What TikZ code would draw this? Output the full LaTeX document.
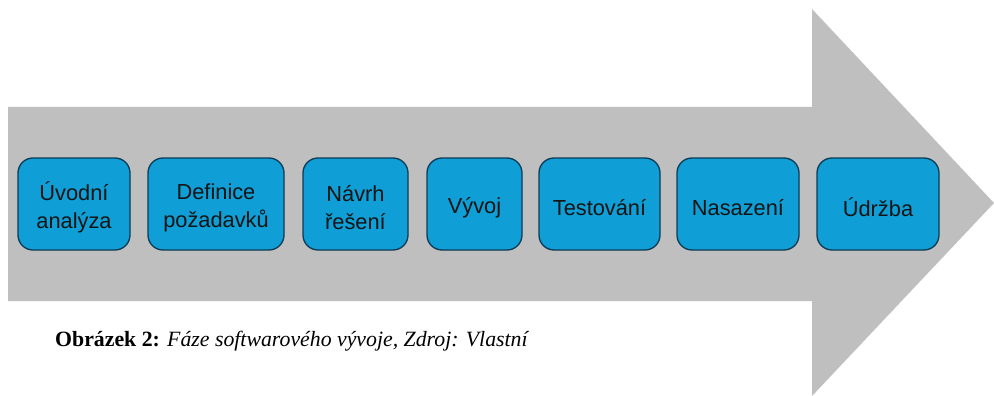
\documentclass[tikz,border=0pt]{standalone}
\usepackage{fontspec}
\setmainfont{Liberation Serif}
\newfontfamily\boxfont{Liberation Sans}
\definecolor{arrowgray}{HTML}{BFBFBF}
\definecolor{boxblue}{HTML}{0F9ED5}
\definecolor{boxedge}{HTML}{0C3B57}
\begin{document}
\begin{tikzpicture}[x=1pt,y=-1pt,
  phase/.style={draw=boxedge, line width=1.3pt, fill=boxblue, rounded corners=15pt,
    minimum height=92pt, inner sep=0pt},
  phasetext/.style={inner sep=0pt, align=center,
    font=\boxfont\fontsize{21.8}{28}\selectfont, text=black!92}]
\useasboundingbox (0,0) rectangle (994,396);
\fill[white] (0,0) rectangle (994,396);
\fill[arrowgray] (8,107) -- (812,107) -- (812,9) -- (994,203) -- (812,396) -- (812,301) -- (8,301) -- cycle;
\node[phase, minimum width=112pt] (p1) at (74,204) {};
\node[phase, minimum width=136pt] (p2) at (216,204) {};
\node[phase, minimum width=105pt] (p3) at (355.5,204) {};
\node[phase, minimum width=95pt] (p4) at (474.5,204) {};
\node[phase, minimum width=121pt] (p5) at (599.5,204) {};
\node[phase, minimum width=122pt] (p6) at (738,204) {};
\node[phase, minimum width=122pt] (p7) at (878,204) {};
\node[phasetext] (t1) at ([yshift=-3.5pt]p1.center) {Úvodní\\analýza};
\node[phasetext] (t2) at ([yshift=-3.5pt]p2.center) {Definice\\požadavků};
\node[phasetext] (t3) at ([yshift=-3.5pt]p3.center) {Návrh\\řešení};
\node[phasetext] (t4) at ([yshift=-3.5pt]p4.center) {Vývoj};
\node[phasetext] (t5) at ([yshift=-3.5pt]p5.center) {Testování};
\node[phasetext] (t6) at ([yshift=-3.5pt]p6.center) {Nasazení};
\node[phasetext] (t7) at ([yshift=-3.5pt]p7.center) {Údržba};
\node[anchor=west, inner sep=0pt, font=\fontsize{21.8}{24}\selectfont] (cap) at (55,341)
  {\textbf{Obrázek 2:} \textit{Fáze softwarového vývoje, Zdroj: Vlastní}};
\end{tikzpicture}
\end{document}
